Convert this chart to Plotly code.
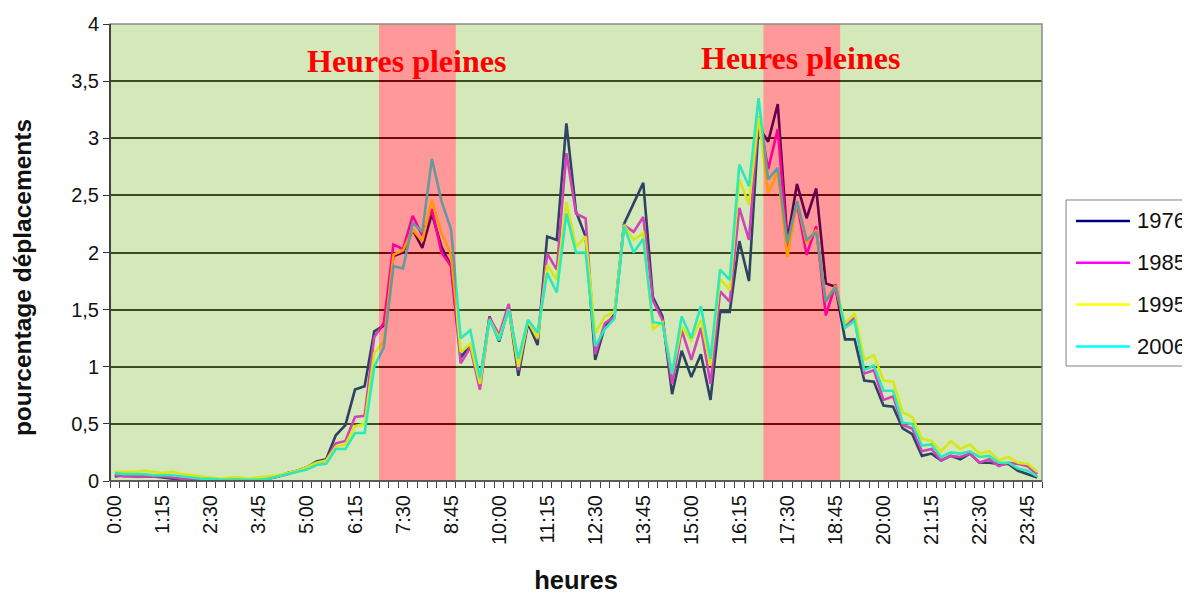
import plotly.graph_objects as go

# ---------------- data ----------------
times = [f"{(15 * k) // 60}:{(15 * k) % 60:02d}" for k in range(97)]  # 0:00 .. 24:00
tick_labels = ["0:00", "1:15", "2:30", "3:45", "5:00", "6:15", "7:30", "8:45", "10:00", "11:15",
               "12:30", "13:45", "15:00", "16:15", "17:30", "18:45", "20:00", "21:15", "22:30", "23:45"]
years = ["1976", "1985", "1995", "2006"]

v1976 = [0.04, 0.05, 0.04, 0.04, 0.04, 0.03, 0.02, 0.01, 0.01, 0.01, 0.01, 0.01, 0.02, 0.02, 0.01, 0.01, 0.02, 0.04, 0.07, 0.09,
         0.12, 0.17, 0.19, 0.40, 0.49, 0.80, 0.83, 1.31,
         1.36, 1.97, 2.00, 2.20, 2.04, 2.34, 2.05, 1.88, 1.08,
         1.19, 0.86, 1.44, 1.22, 1.52, 0.92, 1.38, 1.19, 2.14, 2.11,
         3.13, 2.36, 2.14, 1.06, 1.35, 1.46, 2.25, 2.43, 2.61, 1.61, 1.44, 0.76, 1.14, 0.91,
         1.11, 0.71, 1.48, 1.48, 2.10, 1.75, 3.10, 2.97, 3.30, 2.10, 2.60, 2.30, 2.56, 1.73, 1.70,
         1.24, 1.24, 0.88, 0.87, 0.66, 0.65, 0.46, 0.41, 0.22, 0.24, 0.18, 0.22, 0.19, 0.24, 0.16, 0.16, 0.15, 0.15, 0.09, 0.06, 0.03]
v1985 = [0.05, 0.04, 0.04, 0.04, 0.04, 0.04, 0.03, 0.02, 0.02, 0.01, 0.01, 0.01, 0.01, 0.01, 0.01, 0.02, 0.03, 0.04, 0.06, 0.09,
         0.12, 0.16, 0.18, 0.33, 0.35, 0.56, 0.57, 1.26,
         1.38, 2.07, 2.03, 2.32, 2.15, 2.38, 2.00, 1.88, 1.03,
         1.17, 0.80, 1.43, 1.28, 1.55, 0.97, 1.40, 1.24, 1.99, 1.85,
         2.87, 2.34, 2.30, 1.11, 1.38, 1.44, 2.24, 2.18, 2.31, 1.58, 1.41, 0.85, 1.32, 1.06,
         1.34, 0.85, 1.66, 1.57, 2.39, 2.11, 3.19, 2.73, 3.08, 2.05, 2.43, 1.98, 2.23, 1.45, 1.72,
         1.35, 1.43, 0.94, 0.97, 0.71, 0.74, 0.49, 0.46, 0.26, 0.28, 0.18, 0.22, 0.21, 0.24, 0.16, 0.19, 0.13, 0.16, 0.15, 0.13, 0.06]
v1995 = [0.08, 0.08, 0.08, 0.09, 0.08, 0.07, 0.08, 0.06, 0.05, 0.04, 0.03, 0.02, 0.03, 0.03, 0.02, 0.03, 0.04, 0.05, 0.07, 0.09,
         0.12, 0.16, 0.18, 0.30, 0.32, 0.48, 0.50, 1.12,
         1.22, 1.98, 2.02, 2.20, 2.10, 2.46, 2.17, 1.98, 1.13,
         1.20, 0.85, 1.41, 1.25, 1.50, 1.00, 1.40, 1.25, 1.89, 1.76,
         2.44, 2.05, 2.14, 1.29, 1.44, 1.48, 2.24, 2.11, 2.17, 1.33, 1.39, 0.94, 1.35, 1.23,
         1.41, 1.01, 1.77, 1.67, 2.64, 2.42, 3.19, 2.52, 2.71, 1.96, 2.45, 2.08, 2.20, 1.58, 1.71,
         1.38, 1.47, 1.06, 1.10, 0.88, 0.87, 0.60, 0.56, 0.37, 0.35, 0.26, 0.35, 0.28, 0.32, 0.24, 0.26, 0.18, 0.21, 0.16, 0.15, 0.08]
v2006 = [0.07, 0.06, 0.06, 0.06, 0.05, 0.05, 0.05, 0.04, 0.03, 0.02, 0.02, 0.01, 0.01, 0.01, 0.01, 0.01, 0.02, 0.04, 0.06, 0.08,
         0.10, 0.14, 0.15, 0.28, 0.28, 0.42, 0.42, 1.00,
         1.17, 1.88, 1.86, 2.26, 2.18, 2.82, 2.45, 2.20, 1.25,
         1.32, 0.90, 1.41, 1.23, 1.50, 1.07, 1.41, 1.30, 1.82, 1.65,
         2.34, 2.00, 2.00, 1.18, 1.33, 1.42, 2.23, 2.00, 2.12, 1.39, 1.38, 0.94, 1.44, 1.25,
         1.53, 1.07, 1.85, 1.76, 2.77, 2.58, 3.35, 2.64, 2.74, 2.08, 2.45, 2.11, 2.18, 1.57, 1.70,
         1.34, 1.40, 0.97, 1.01, 0.79, 0.79, 0.51, 0.50, 0.31, 0.32, 0.21, 0.25, 0.24, 0.26, 0.21, 0.22, 0.16, 0.16, 0.11, 0.09, 0.04]
series = [v1976, v1985, v1995, v2006]
colors = ["#000080", "#FF00FF", "#FFFF00", "#00FFFF"]

y_ticks = [0, 0.5, 1, 1.5, 2, 2.5, 3, 3.5, 4]
y_tick_labels = ["0", "0,5", "1", "1,5", "2", "2,5", "3", "3,5", "4"]

peak_periods = [("7:00", "9:00"), ("17:00", "19:00")]
peak_label = "Heures pleines"
x_title = "heures"
y_title = "pourcentage déplacements"

# ---------------- figure ----------------
x = list(range(len(times)))
fig = go.Figure()
for name, vals, col in zip(years, series, colors):
    fig.add_trace(go.Scatter(x=x, y=vals, mode="lines", name=name,
                             line=dict(color=col, width=2.6), showlegend=False))

xmin, xmax = -0.5, len(times) - 0.5
bands = [(times.index(a) - 0.5, times.index(b) - 0.5) for a, b in peak_periods]

# green translucent overlay on off-peak periods
edges = [xmin] + [e for b in bands for e in b] + [xmax]
for k in range(0, len(edges), 2):
    fig.add_shape(type="rect", xref="x", yref="y", x0=edges[k], x1=edges[k + 1], y0=0, y1=4,
                  fillcolor="rgb(131,190,55)", opacity=0.35, line_width=0, layer="above")
# red translucent overlay on peak periods
for b0, b1 in bands:
    fig.add_shape(type="rect", xref="x", yref="y", x0=b0, x1=b1, y0=0, y1=4,
                  fillcolor="rgb(255,0,0)", opacity=0.40, line_width=0, layer="above")

# plot frame
fig.add_shape(type="rect", xref="paper", yref="paper", x0=0, x1=1, y0=0, y1=1,
              line=dict(color="#8a8a8a", width=1.5), layer="above")
fig.add_shape(type="line", xref="paper", yref="paper", x0=0, x1=0, y0=0, y1=1,
              line=dict(color="#222222", width=1.5), layer="above")
fig.add_shape(type="line", xref="paper", yref="paper", x0=0, x1=1, y0=0, y1=0,
              line=dict(color="#444444", width=1.5), layer="above")

# peak labels
for (b0, b1), xc, yc in zip(bands, [30.4, 71.4], [3.68, 3.70]):
    fig.add_annotation(x=xc, y=yc, xref="x", yref="y", text=f"<b>{peak_label}</b>", showarrow=False,
                       font=dict(family="Liberation Serif, Times New Roman, serif", size=32, color="#FF0000"))

# y-axis title (placed below the axis centre, as in the original)
fig.add_annotation(x=-0.0944, y=0.444, xref="paper", yref="paper", text=f"<b>{y_title}</b>",
                   showarrow=False, textangle=-90, xanchor="center", yanchor="middle",
                   font=dict(family="Liberation Sans, Arial, sans-serif", size=24.5, color="#111111"))

# manual legend (extends past the right edge, as in the original)
fig.add_shape(type="rect", xref="paper", yref="paper", x0=1.0258, x1=1.20, y0=0.2516, y1=0.6149,
              line=dict(color="#808080", width=1), fillcolor="white", layer="above")
for k, (name, col) in enumerate(zip(years, colors)):
    yy = 0.569 - k * 0.0915
    fig.add_shape(type="line", xref="paper", yref="paper", x0=1.0365, x1=1.0944, y0=yy, y1=yy,
                  line=dict(color=col, width=2.5), layer="above")
    fig.add_annotation(x=1.0995, y=yy, xref="paper", yref="paper", text=name, showarrow=False,
                       xanchor="left", yanchor="middle",
                       font=dict(family="Liberation Sans, Arial, sans-serif", size=22, color="#111111"))

fig.update_layout(
    width=1190, height=595,
    margin=dict(l=102, r=156, t=16, b=122, autoexpand=False),
    paper_bgcolor="white", plot_bgcolor="white",
    separators=", ",
    font=dict(family="Liberation Sans, Arial, sans-serif", size=20, color="#111111"),
    showlegend=False,
)
fig.update_xaxes(
    range=[xmin, xmax],
    tickmode="array",
    tickvals=[times.index(t) for t in tick_labels],
    ticktext=tick_labels,
    tickangle=-90,
    ticks="",
    ticklabelstandoff=9,
    tickfont=dict(size=20, color="#111111"),
    showgrid=False, zeroline=False, showline=False,
    minor=dict(tickmode="array", tickvals=[k - 0.5 for k in range(len(times) + 1)],
               ticks="outside", ticklen=6, tickwidth=1, tickcolor="#444444", showgrid=False),
    title=dict(text=x_title, standoff=27,
               font=dict(size=25.5, weight="bold", color="#111111")),
)
fig.update_yaxes(
    range=[0, 4],
    tickmode="array", tickvals=y_ticks, ticktext=y_tick_labels,
    ticks="outside", ticklen=6, tickcolor="#333333",
    tickfont=dict(size=20, color="#111111"),
    showgrid=True, gridcolor="#111111", gridwidth=1.5,
    zeroline=False, showline=False,
)

fig.write_html("out.html")
